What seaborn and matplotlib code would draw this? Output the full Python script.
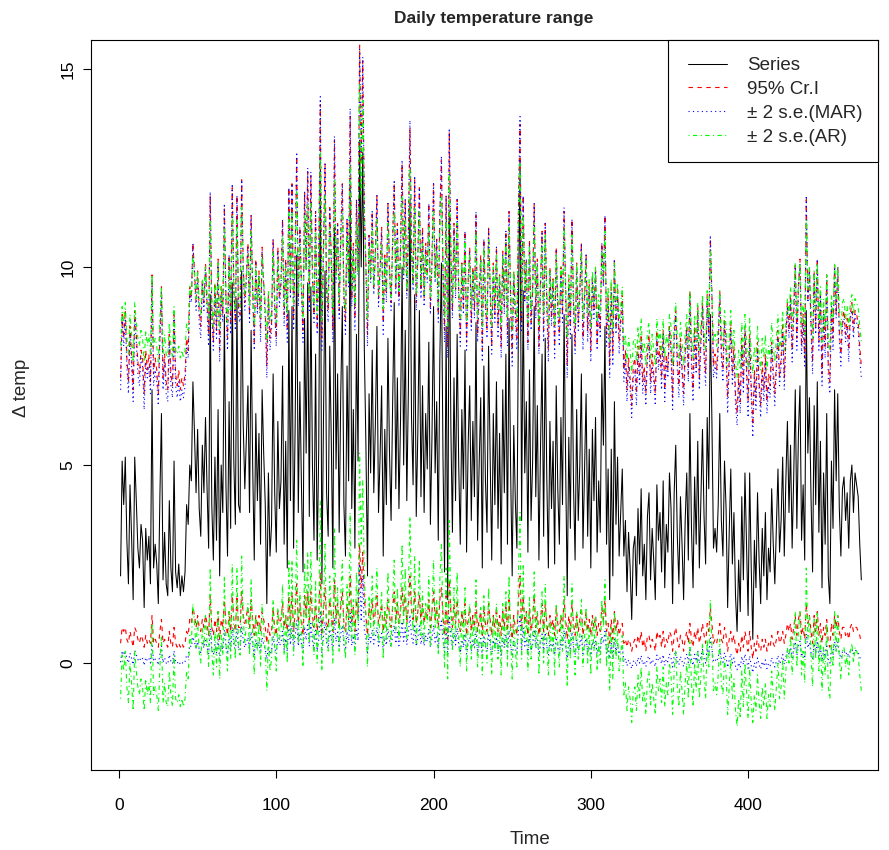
import numpy as np
import pandas as pd
import matplotlib
matplotlib.use("Agg")
import matplotlib.pyplot as plt
from matplotlib.patches import Rectangle
import seaborn as sns

# ---------------- data ----------------
series = [
    2.2, 5.1, 4.0, 5.2, 3.1, 2.0, 4.5, 3.2, 1.6, 5.2, 4.1, 2.9, 2.4, 3.5, 3.1, 1.4, 3.4, 2.6, 3.2, 2.0,
    6.9, 2.4, 3.0, 2.5, 1.5, 4.2, 6.3, 2.1, 3.3, 2.0, 1.7, 4.1, 2.4, 1.8, 5.1, 2.3, 1.9, 2.5, 1.7, 2.2,
    1.8, 2.3, 4.0, 3.5, 5.0, 4.6, 7.1, 5.8, 4.3, 5.9, 3.9, 3.2, 5.5, 4.3, 6.2, 4.4, 2.9, 9.3, 4.0, 2.6,
    5.2, 3.1, 6.4, 2.2, 5.0, 3.8, 8.8, 4.5, 2.7, 6.6, 3.4, 9.6, 5.1, 3.5, 9.2, 4.0, 3.8, 9.9, 6.0, 4.4,
    5.7, 7.0, 3.8, 8.4, 5.0, 2.6, 6.3, 4.1, 5.8, 3.0, 6.9, 5.3, 4.0, 1.5, 4.8, 2.7, 3.5, 7.3, 4.3, 2.8,
    6.1, 3.9, 4.6, 7.5, 3.0, 5.6, 2.4, 8.9, 4.1, 9.0, 2.9, 6.0, 10.3, 3.8, 7.1, 4.5, 2.3, 8.7, 5.3, 9.6,
    3.7, 9.5, 5.0, 3.1, 7.8, 2.6, 5.4, 12.7, 2.0, 6.1, 9.9, 4.3, 3.2, 8.0, 5.6, 2.4, 11.0, 4.9, 7.3, 3.3,
    6.8, 9.0, 4.0, 2.7, 7.5, 4.6, 12.1, 3.9, 6.4, 2.9, 8.3, 5.1, 13.2, 10.0, 12.9, 7.9, 5.5, 2.2, 6.8, 4.8,
    7.9, 4.3, 6.0, 8.5, 3.8, 5.2, 7.0, 2.7, 5.9, 4.0, 8.2, 5.3, 3.6, 6.6, 9.1, 4.4, 7.2, 3.9, 6.1, 10.0,
    5.0, 8.4, 4.1, 6.9, 11.7, 6.2, 4.5, 9.3, 3.7, 5.8, 8.9, 4.2, 7.0, 3.8, 6.3, 4.9, 8.1, 3.5, 5.7, 9.0,
    4.8, 6.6, 3.1, 7.7, 10.1, 5.2, 2.3, 8.5, 1.6, 11.4, 6.0, 3.3, 7.2, 4.1, 8.3, 5.0, 3.0, 6.4, 4.4, 7.9,
    2.8, 5.5, 7.0, 3.6, 6.1, 4.2, 8.6, 3.1, 5.0, 6.7, 2.4, 7.5, 4.6, 3.3, 8.0, 5.2, 2.6, 6.3, 4.0, 7.1,
    3.4, 5.8, 2.5, 6.9, 4.3, 7.8, 3.0, 8.7, 4.9, 2.2, 6.0, 4.1, 2.9, 8.9, 12.7, 3.6, 9.4, 4.8, 6.6, 2.8,
    7.4, 3.6, 5.1, 9.0, 4.2, 6.5, 2.6, 5.4, 7.8, 3.2, 8.2, 4.7, 2.4, 6.1, 3.9, 5.6, 2.5, 7.0, 4.4, 3.0,
    6.2, 4.0, 8.8, 5.0, 1.7, 5.7, 3.4, 8.3, 4.5, 2.6, 6.4, 3.6, 5.0, 7.3, 2.9, 4.8, 6.8, 3.2, 5.4, 2.4,
    5.9, 4.1, 6.2, 2.8, 4.6, 3.3, 7.3, 5.5, 8.5, 3.0, 4.9, 1.6, 5.4, 2.2, 6.6, 3.5, 5.2, 2.7, 3.8, 4.9,
    2.7, 3.6, 1.8, 3.3, 2.4, 1.1, 2.9, 3.2, 1.7, 3.9, 2.5, 4.4, 2.2, 3.0, 1.6, 3.7, 4.3, 2.1, 3.4, 2.6,
    1.6, 4.5, 3.1, 3.8, 2.3, 4.6, 1.9, 3.5, 2.8, 4.8, 3.9, 1.5, 4.3, 5.5, 3.2, 2.0, 4.2, 3.0, 1.6, 3.6,
    4.8, 2.6, 6.3, 3.4, 1.9, 4.7, 3.0, 5.6, 2.4, 4.1, 5.9, 3.7, 2.5, 6.2, 4.4, 8.8, 6.1, 2.9, 3.4, 2.8,
    4.0, 6.3, 3.6, 2.7, 5.1, 3.9, 1.4, 3.3, 4.9, 2.5, 3.8, 1.7, 0.8, 2.6, 1.3, 4.2, 2.1, 4.8, 3.0, 1.2,
    4.8, 2.4, 0.6, 3.1, 1.9, 4.3, 2.6, 1.5, 3.4, 2.2, 3.8, 1.6, 2.9, 2.3, 4.4, 3.0, 2.0, 3.5, 4.9, 2.8,
    3.6, 5.2, 2.7, 4.6, 6.1, 3.8, 5.5, 2.9, 4.7, 6.9, 3.4, 5.8, 7.0, 3.1, 4.5, 2.6, 8.9, 5.3, 6.7, 4.2,
    2.3, 6.5, 4.0, 7.1, 3.3, 5.6, 1.9, 4.8, 3.0, 6.3, 2.2, 1.5, 5.1, 3.4, 6.9, 4.6, 6.8, 3.9, 2.7, 4.4,
    4.7, 3.6, 4.3, 2.9, 4.6, 5.0, 3.8, 4.8, 4.5, 4.2, 3.0, 2.1,
]

cri_upper = [
    7.2, 8.8, 8.2, 8.9, 7.7, 7.1, 8.5, 7.8, 6.9, 8.9, 8.3, 7.6, 7.3, 7.9, 7.7, 6.8, 7.9, 7.4, 7.8, 7.1,
    9.8, 7.3, 7.7, 7.4, 6.8, 8.3, 9.5, 7.2, 7.8, 7.1, 6.9, 8.3, 7.3, 7.0, 8.8, 7.3, 7.0, 7.4, 6.9, 7.2,
    7.0, 7.3, 8.2, 7.9, 9.5, 9.2, 10.6, 9.9, 9.1, 9.9, 8.9, 8.5, 9.7, 9.1, 10.1, 9.1, 8.3, 11.8, 8.9, 8.1,
    9.6, 8.4, 10.2, 7.9, 9.5, 8.8, 11.5, 9.2, 8.2, 10.3, 8.6, 12.0, 9.5, 8.6, 11.8, 8.9, 8.8, 12.2, 10.0, 9.1,
    9.8, 10.6, 8.8, 11.3, 9.5, 8.1, 10.2, 9.0, 9.9, 8.4, 10.5, 9.6, 8.9, 7.5, 9.3, 8.2, 8.6, 10.7, 9.1, 8.2,
    10.5, 9.2, 9.6, 11.2, 8.8, 10.2, 8.4, 12.0, 9.4, 12.1, 8.7, 10.4, 12.8, 9.2, 11.0, 9.6, 8.4, 11.9, 10.0, 12.4,
    9.1, 12.3, 9.9, 8.8, 11.4, 8.5, 10.1, 14.1, 8.2, 10.5, 12.6, 9.5, 8.9, 11.5, 10.2, 8.4, 13.2, 9.8, 11.1, 8.9,
    10.8, 12.1, 9.3, 8.6, 11.2, 9.6, 13.8, 9.2, 10.6, 8.7, 11.7, 9.9, 15.6, 12.6, 15.2, 11.4, 10.1, 8.3, 10.8, 9.7,
    11.4, 9.5, 10.4, 11.8, 9.2, 10.0, 11.0, 8.6, 10.3, 9.3, 11.6, 10.0, 9.1, 10.7, 12.1, 9.5, 11.1, 9.2, 10.5, 12.6,
    9.9, 11.7, 9.4, 10.9, 13.5, 10.5, 9.6, 12.2, 9.1, 10.3, 12.0, 9.4, 11.0, 9.2, 10.6, 9.8, 11.6, 9.0, 10.2, 12.1,
    9.7, 10.7, 8.8, 11.3, 12.7, 10.0, 8.4, 11.8, 8.0, 13.4, 10.4, 8.9, 11.1, 9.4, 11.7, 9.4, 8.3, 10.1, 9.0, 10.9,
    8.1, 9.6, 10.5, 8.6, 10.0, 8.9, 11.3, 8.3, 9.4, 10.3, 7.9, 10.7, 9.1, 8.4, 11.0, 9.5, 8.0, 10.1, 8.8, 10.5,
    8.5, 9.8, 8.0, 10.4, 9.0, 10.9, 8.3, 11.4, 9.3, 7.8, 9.9, 8.9, 8.2, 11.5, 13.6, 8.6, 11.8, 9.2, 10.2, 8.1,
    10.7, 8.6, 9.4, 11.6, 8.9, 10.2, 8.0, 9.6, 10.9, 8.4, 11.1, 9.2, 7.9, 10.0, 8.7, 9.7, 8.0, 10.5, 9.0, 8.3,
    10.0, 8.8, 11.4, 9.4, 7.5, 9.7, 8.5, 11.2, 9.1, 8.0, 10.1, 8.6, 9.4, 10.6, 8.2, 9.2, 10.3, 8.4, 9.6, 7.9,
    9.8, 8.9, 10.0, 8.1, 9.1, 8.4, 10.6, 9.6, 11.3, 8.3, 9.3, 7.5, 9.6, 7.8, 10.2, 8.5, 9.5, 8.1, 8.7, 9.3,
    7.4, 7.9, 6.9, 7.7, 7.2, 6.5, 7.5, 7.7, 6.8, 8.0, 7.3, 8.3, 7.1, 7.5, 6.8, 7.9, 8.3, 7.1, 7.8, 7.3,
    6.8, 8.4, 7.6, 8.0, 7.2, 8.4, 6.9, 7.8, 7.4, 8.5, 8.0, 6.7, 8.3, 8.9, 7.7, 7.0, 8.2, 7.5, 6.8, 7.9,
    8.5, 7.3, 9.4, 7.8, 6.9, 8.5, 7.5, 9.0, 7.2, 8.2, 9.1, 7.9, 7.3, 9.3, 8.3, 10.7, 9.3, 7.5, 7.8, 7.4,
    8.1, 9.4, 7.9, 7.4, 8.7, 8.0, 6.7, 7.7, 8.6, 7.3, 8.0, 6.8, 6.3, 7.3, 6.6, 8.2, 7.1, 8.5, 7.5, 6.6,
    8.3, 7.0, 6.0, 7.4, 6.7, 8.1, 7.1, 6.5, 7.6, 6.9, 7.8, 6.6, 7.3, 7.0, 8.1, 7.4, 6.8, 7.6, 8.4, 7.2,
    7.7, 8.6, 7.2, 8.2, 9.1, 8.4, 9.3, 7.9, 8.9, 10.1, 8.2, 9.5, 10.2, 8.0, 8.8, 7.7, 11.7, 9.2, 10.0, 8.6,
    7.6, 9.9, 8.5, 10.2, 8.1, 9.4, 7.3, 8.9, 8.0, 9.8, 7.5, 7.1, 9.1, 8.2, 10.1, 8.8, 10.0, 8.4, 7.8, 8.7,
    8.9, 8.3, 8.7, 7.9, 8.8, 9.1, 8.4, 8.9, 8.8, 8.6, 8.0, 7.5,
]

cri_lower = [
    0.5, 0.9, 0.8, 0.9, 0.6, 0.5, 0.8, 0.6, 0.4, 0.9, 0.8, 0.6, 0.5, 0.7, 0.6, 0.4, 0.7, 0.5, 0.6, 0.5,
    1.2, 0.5, 0.6, 0.5, 0.4, 0.8, 1.1, 0.5, 0.6, 0.5, 0.4, 0.8, 0.5, 0.4, 0.9, 0.5, 0.4, 0.5, 0.4, 0.5,
    0.4, 0.5, 0.8, 0.7, 1.1, 1.0, 1.4, 1.2, 0.9, 1.2, 0.9, 0.8, 1.1, 0.9, 1.2, 1.0, 0.7, 1.7, 0.9, 0.7,
    1.1, 0.8, 1.3, 0.6, 1.1, 0.9, 1.6, 1.0, 0.7, 1.3, 0.8, 1.7, 1.1, 0.8, 1.7, 0.9, 0.9, 1.8, 1.2, 1.0,
    1.2, 1.4, 0.9, 1.6, 1.1, 0.7, 1.2, 0.9, 1.2, 0.8, 1.3, 1.1, 0.9, 0.5, 1.0, 0.7, 0.8, 1.4, 0.9, 0.7,
    1.3, 1.0, 1.1, 1.5, 0.9, 1.2, 0.8, 1.7, 1.0, 1.8, 0.8, 1.3, 2.0, 1.0, 1.5, 1.1, 0.7, 1.7, 1.2, 1.8,
    1.0, 1.8, 1.2, 0.9, 1.6, 0.8, 1.2, 2.3, 0.7, 1.3, 1.9, 1.0, 0.9, 1.6, 1.2, 0.8, 2.1, 1.1, 1.5, 0.9,
    1.4, 1.8, 1.0, 0.8, 1.5, 1.1, 2.2, 1.0, 1.4, 0.8, 1.6, 1.2, 3.0, 1.9, 2.8, 1.6, 1.2, 0.7, 1.4, 1.1,
    1.6, 1.0, 1.3, 1.7, 1.0, 1.2, 1.5, 0.8, 1.3, 1.0, 1.6, 1.2, 0.9, 1.4, 1.8, 1.1, 1.5, 1.0, 1.3, 1.9,
    1.2, 1.7, 1.0, 1.4, 2.2, 1.3, 1.1, 1.8, 1.0, 1.3, 1.7, 1.0, 1.5, 1.0, 1.3, 1.1, 1.6, 0.9, 1.3, 1.8,
    1.1, 1.4, 0.9, 1.6, 1.9, 1.2, 0.7, 1.7, 0.6, 2.1, 1.3, 0.9, 1.5, 1.0, 1.6, 1.1, 0.8, 1.3, 1.0, 1.5,
    0.7, 1.1, 1.4, 0.8, 1.2, 0.9, 1.6, 0.8, 1.1, 1.3, 0.7, 1.4, 1.0, 0.8, 1.5, 1.1, 0.7, 1.2, 0.9, 1.4,
    0.8, 1.2, 0.7, 1.3, 0.9, 1.5, 0.8, 1.6, 1.0, 0.6, 1.2, 0.9, 0.7, 1.6, 2.2, 0.8, 1.7, 1.0, 1.3, 0.7,
    1.4, 0.8, 1.1, 1.7, 0.9, 1.3, 0.7, 1.1, 1.5, 0.8, 1.5, 1.0, 0.7, 1.2, 0.9, 1.1, 0.7, 1.4, 1.0, 0.8,
    1.2, 0.9, 1.6, 1.1, 0.6, 1.2, 0.8, 1.5, 1.0, 0.7, 1.3, 0.8, 1.1, 1.4, 0.7, 1.0, 1.3, 0.8, 1.1, 0.7,
    1.2, 0.9, 1.2, 0.7, 1.0, 0.8, 1.4, 1.1, 1.6, 0.8, 1.0, 0.5, 1.1, 0.6, 1.3, 0.8, 1.1, 0.7, 0.9, 1.0,
    0.5, 0.6, 0.4, 0.6, 0.5, 0.3, 0.5, 0.6, 0.4, 0.7, 0.5, 0.8, 0.4, 0.6, 0.3, 0.7, 0.7, 0.4, 0.6, 0.5,
    0.3, 0.8, 0.6, 0.7, 0.4, 0.8, 0.4, 0.6, 0.5, 0.8, 0.7, 0.3, 0.7, 0.9, 0.6, 0.4, 0.7, 0.6, 0.3, 0.6,
    0.8, 0.5, 1.0, 0.6, 0.4, 0.8, 0.6, 0.9, 0.5, 0.7, 1.0, 0.7, 0.5, 1.0, 0.8, 1.4, 1.0, 0.5, 0.6, 0.5,
    0.7, 1.0, 0.6, 0.5, 0.9, 0.7, 0.3, 0.6, 0.8, 0.5, 0.7, 0.4, 0.2, 0.5, 0.3, 0.7, 0.4, 0.8, 0.6, 0.3,
    0.8, 0.4, 0.1, 0.5, 0.3, 0.7, 0.4, 0.3, 0.6, 0.4, 0.6, 0.3, 0.5, 0.4, 0.7, 0.5, 0.4, 0.6, 0.8, 0.5,
    0.6, 0.8, 0.5, 0.7, 1.0, 0.8, 1.0, 0.6, 0.9, 1.2, 0.7, 1.1, 1.3, 0.7, 0.9, 0.6, 1.5, 1.0, 1.2, 0.8,
    0.5, 1.2, 0.8, 1.3, 0.7, 1.0, 0.5, 0.9, 0.7, 1.1, 0.5, 0.4, 1.0, 0.7, 1.2, 0.9, 1.2, 0.8, 0.6, 0.9,
    0.9, 0.7, 0.8, 0.6, 0.9, 1.0, 0.8, 0.9, 0.9, 0.8, 0.7, 0.5,
]

mar_upper = [
    6.9, 8.7, 8.0, 8.7, 7.5, 6.8, 8.3, 7.5, 6.6, 8.7, 8.1, 7.3, 7.0, 7.7, 7.5, 6.4, 7.6, 7.2, 7.5, 6.8,
    9.7, 7.0, 7.4, 7.1, 6.5, 8.1, 9.4, 6.9, 7.6, 6.8, 6.6, 8.1, 7.0, 6.7, 8.7, 7.0, 6.7, 7.1, 6.6, 6.9,
    6.7, 7.0, 8.0, 7.7, 9.3, 9.1, 10.6, 9.8, 8.9, 9.8, 8.6, 8.2, 9.6, 8.9, 10.0, 8.9, 8.0, 11.9, 8.7, 7.9,
    9.4, 8.2, 10.1, 7.6, 9.3, 8.6, 11.6, 9.0, 7.9, 10.3, 8.3, 12.1, 9.4, 8.4, 11.8, 8.7, 8.6, 12.2, 9.9, 8.9,
    9.7, 10.5, 8.6, 11.3, 9.3, 7.9, 10.1, 8.8, 9.8, 8.1, 10.4, 9.5, 8.7, 7.2, 9.2, 7.9, 8.4, 10.7, 8.9, 8.0,
    10.4, 9.0, 9.5, 11.2, 8.5, 10.1, 8.1, 12.0, 9.2, 12.1, 8.4, 10.3, 12.9, 9.0, 11.0, 9.4, 8.1, 11.9, 9.9, 12.5,
    8.9, 12.4, 9.7, 8.6, 11.4, 8.3, 10.0, 14.3, 7.9, 10.4, 12.6, 9.3, 8.6, 11.5, 10.1, 8.1, 13.3, 9.6, 11.1, 8.7,
    10.8, 12.1, 9.1, 8.3, 11.2, 9.5, 14.0, 9.0, 10.5, 8.4, 11.7, 9.8, 15.5, 12.7, 15.3, 11.4, 10.0, 8.0, 10.8, 9.6,
    11.4, 9.3, 10.3, 11.8, 9.0, 9.8, 10.9, 8.3, 10.2, 9.1, 11.6, 9.9, 8.9, 10.7, 12.2, 9.3, 11.0, 9.0, 10.4, 12.7,
    9.7, 11.7, 9.2, 10.8, 13.7, 10.4, 9.4, 12.3, 8.9, 10.2, 12.0, 9.2, 10.9, 9.0, 10.5, 9.6, 11.6, 8.8, 10.1, 12.1,
    9.6, 10.7, 8.6, 11.3, 12.8, 9.8, 8.1, 11.8, 7.7, 13.5, 10.3, 8.7, 11.0, 9.2, 11.7, 9.2, 8.0, 10.0, 8.8, 10.9,
    7.9, 9.5, 10.4, 8.4, 9.9, 8.7, 11.4, 8.1, 9.2, 10.2, 7.6, 10.7, 9.0, 8.2, 11.0, 9.3, 7.8, 10.0, 8.6, 10.5,
    8.2, 9.7, 7.7, 10.3, 8.8, 10.9, 8.0, 11.4, 9.1, 7.5, 9.8, 8.7, 7.9, 11.5, 13.8, 8.4, 11.8, 9.1, 10.2, 7.9,
    10.6, 8.4, 9.3, 11.6, 8.7, 10.1, 7.8, 9.4, 10.9, 8.1, 11.1, 9.0, 7.6, 9.9, 8.5, 9.6, 7.7, 10.4, 8.8, 8.0,
    9.9, 8.6, 11.5, 9.2, 7.2, 9.6, 8.2, 11.2, 8.9, 7.8, 10.0, 8.4, 9.2, 10.6, 7.9, 9.1, 10.3, 8.1, 9.4, 7.6,
    9.7, 8.7, 9.9, 7.9, 9.0, 8.2, 10.6, 9.5, 11.3, 8.0, 9.1, 7.2, 9.4, 7.5, 10.2, 8.3, 9.3, 7.8, 8.5, 9.1,
    7.1, 7.7, 6.6, 7.5, 6.9, 6.2, 7.2, 7.4, 6.5, 7.8, 7.0, 8.1, 6.8, 7.3, 6.5, 7.7, 8.1, 6.8, 7.5, 7.1,
    6.5, 8.2, 7.4, 7.8, 6.9, 8.3, 6.6, 7.6, 7.2, 8.4, 7.8, 6.4, 8.1, 8.8, 7.4, 6.7, 8.0, 7.3, 6.5, 7.7,
    8.4, 7.1, 9.3, 7.5, 6.6, 8.3, 7.3, 8.9, 6.9, 8.0, 9.0, 7.7, 7.0, 9.2, 8.1, 10.8, 9.2, 7.2, 7.5, 7.2,
    7.9, 9.3, 7.7, 7.1, 8.6, 7.8, 6.3, 7.5, 8.4, 7.0, 7.8, 6.5, 6.0, 7.1, 6.3, 8.0, 6.8, 8.4, 7.3, 6.2,
    8.2, 6.7, 5.7, 7.2, 6.4, 7.9, 6.9, 6.2, 7.3, 6.6, 7.6, 6.3, 7.0, 6.7, 8.0, 7.1, 6.5, 7.4, 8.2, 7.0,
    7.5, 8.4, 6.9, 8.1, 9.0, 8.2, 9.2, 7.6, 8.7, 10.0, 7.9, 9.4, 10.1, 7.8, 8.6, 7.5, 11.8, 9.1, 9.9, 8.4,
    7.3, 9.8, 8.3, 10.2, 7.9, 9.3, 7.0, 8.8, 7.7, 9.7, 7.2, 6.8, 9.0, 7.9, 10.0, 8.7, 10.0, 8.2, 7.5, 8.5,
    8.7, 8.1, 8.5, 7.6, 8.7, 8.9, 8.2, 8.8, 8.6, 8.4, 7.7, 7.2,
]

mar_lower = [
    0.02, 0.31, 0.2, 0.32, 0.11, 0.0, 0.25, 0.12, -0.04, 0.32, 0.21, 0.09, 0.04, 0.15, 0.11, -0.06, 0.14, 0.06, 0.12, 0.0,
    0.49, 0.04, 0.1, 0.05, -0.05, 0.22, 0.43, 0.01, 0.13, 0.0, -0.03, 0.21, 0.04, -0.02, 0.31, 0.03, -0.01, 0.05, -0.03, 0.02,
    -0.02, 0.03, 0.2, 0.15, 0.45, 0.41, 0.66, 0.53, 0.38, 0.54, 0.34, 0.27, 0.5, 0.38, 0.57, 0.39, 0.24, 0.88, 0.35, 0.21,
    0.47, 0.26, 0.59, 0.17, 0.45, 0.33, 0.83, 0.4, 0.22, 0.61, 0.29, 0.91, 0.46, 0.3, 0.87, 0.35, 0.33, 0.94, 0.55, 0.39,
    0.52, 0.65, 0.33, 0.79, 0.45, 0.21, 0.58, 0.36, 0.53, 0.25, 0.64, 0.48, 0.35, 0.1, 0.43, 0.22, 0.3, 0.68, 0.38, 0.23,
    0.66, 0.44, 0.51, 0.8, 0.35, 0.61, 0.29, 0.94, 0.46, 0.95, 0.34, 0.65, 1.08, 0.43, 0.76, 0.5, 0.28, 0.92, 0.58, 1.01,
    0.42, 1.0, 0.55, 0.36, 0.83, 0.31, 0.59, 1.32, 0.25, 0.66, 1.04, 0.48, 0.37, 0.85, 0.61, 0.29, 1.15, 0.54, 0.78, 0.38,
    0.73, 0.95, 0.45, 0.32, 0.8, 0.51, 1.26, 0.44, 0.69, 0.34, 0.88, 0.56, 2.5, 1.05, 2.2, 0.84, 0.6, 0.27, 0.73, 0.53,
    0.84, 0.48, 0.65, 0.9, 0.43, 0.57, 0.75, 0.32, 0.64, 0.45, 0.87, 0.58, 0.41, 0.71, 0.96, 0.49, 0.77, 0.44, 0.66, 1.05,
    0.55, 0.89, 0.46, 0.74, 1.22, 0.67, 0.5, 0.98, 0.42, 0.63, 0.94, 0.47, 0.75, 0.43, 0.68, 0.54, 0.86, 0.4, 0.62, 0.95,
    0.53, 0.71, 0.36, 0.82, 1.06, 0.57, 0.28, 0.9, 0.21, 1.19, 0.65, 0.38, 0.77, 0.46, 0.88, 0.45, 0.25, 0.59, 0.39, 0.74,
    0.23, 0.5, 0.65, 0.31, 0.56, 0.37, 0.81, 0.26, 0.45, 0.62, 0.19, 0.7, 0.41, 0.28, 0.75, 0.47, 0.21, 0.58, 0.35, 0.66,
    0.29, 0.53, 0.2, 0.64, 0.38, 0.73, 0.25, 0.82, 0.44, 0.17, 0.55, 0.36, 0.24, 0.84, 1.22, 0.31, 0.89, 0.43, 0.61, 0.23,
    0.69, 0.31, 0.46, 0.85, 0.37, 0.6, 0.21, 0.49, 0.73, 0.27, 0.77, 0.42, 0.19, 0.56, 0.34, 0.51, 0.2, 0.65, 0.39, 0.25,
    0.57, 0.35, 0.83, 0.45, 0.12, 0.52, 0.29, 0.78, 0.4, 0.21, 0.59, 0.31, 0.45, 0.68, 0.24, 0.43, 0.63, 0.27, 0.49, 0.19,
    0.54, 0.36, 0.57, 0.23, 0.41, 0.28, 0.68, 0.5, 0.8, 0.25, 0.44, 0.11, 0.49, 0.17, 0.61, 0.3, 0.47, 0.22, 0.33, 0.44,
    0.02, 0.11, -0.07, 0.08, -0.01, -0.14, 0.04, 0.07, -0.08, 0.14, 0.0, 0.19, -0.03, 0.05, -0.09, 0.12, 0.18, -0.04, 0.09, 0.01,
    -0.09, 0.2, 0.06, 0.13, -0.02, 0.21, -0.06, 0.1, 0.03, 0.23, 0.14, -0.1, 0.18, 0.3, 0.07, -0.05, 0.17, 0.05, -0.09, 0.11,
    0.23, 0.01, 0.38, 0.09, -0.06, 0.22, 0.05, 0.31, -0.01, 0.16, 0.34, 0.12, 0.0, 0.37, 0.19, 0.63, 0.36, 0.04, 0.09, 0.03,
    0.15, 0.38, 0.11, 0.02, 0.26, 0.14, -0.11, 0.08, 0.24, 0.0, 0.13, -0.08, -0.17, 0.01, -0.12, 0.17, -0.04, 0.23, 0.05, -0.13,
    0.18, -0.06, -0.24, 0.01, -0.11, 0.13, -0.04, -0.15, 0.04, -0.08, 0.08, -0.14, -0.01, -0.07, 0.14, 0.0, -0.1, 0.05, 0.19, -0.02,
    0.06, 0.22, -0.03, 0.16, 0.31, 0.23, 0.4, 0.14, 0.32, 0.54, 0.19, 0.43, 0.55, 0.16, 0.3, 0.11, 0.74, 0.38, 0.52, 0.27,
    0.08, 0.5, 0.25, 0.56, 0.18, 0.41, 0.04, 0.33, 0.15, 0.48, 0.07, 0.0, 0.36, 0.19, 0.54, 0.31, 0.53, 0.24, 0.12, 0.29,
    0.32, 0.21, 0.28, 0.14, 0.31, 0.35, 0.23, 0.33, 0.3, 0.27, 0.15, 0.06,
]

ar_upper = [
    7.9, 9.0, 8.6, 9.1, 8.2, 7.8, 8.8, 8.3, 7.6, 9.1, 8.6, 8.2, 8.0, 8.4, 8.2, 7.6, 8.4, 8.0, 8.3, 7.8,
    9.8, 8.0, 8.2, 8.0, 7.6, 8.7, 9.5, 7.8, 8.3, 7.8, 7.7, 8.6, 8.0, 7.7, 9.0, 7.9, 7.8, 8.0, 7.7, 7.9,
    7.7, 7.9, 8.6, 8.4, 9.5, 9.3, 10.3, 9.8, 9.2, 9.9, 9.1, 8.8, 9.7, 9.2, 10.0, 9.3, 8.7, 11.2, 9.1, 8.5,
    9.6, 8.7, 10.1, 8.4, 9.5, 9.0, 11.0, 9.3, 8.6, 10.1, 8.9, 11.3, 9.5, 8.9, 11.2, 9.1, 9.0, 11.5, 9.9, 9.3,
    9.8, 10.3, 9.0, 10.9, 9.5, 8.5, 10.0, 9.1, 9.8, 8.7, 10.3, 9.6, 9.1, 8.1, 9.4, 8.6, 8.9, 10.4, 9.2, 8.6,
    10.2, 9.4, 9.6, 10.8, 9.0, 10.0, 8.8, 11.4, 9.4, 11.4, 9.0, 10.2, 11.9, 9.3, 10.6, 9.6, 8.7, 11.3, 9.9, 11.6,
    9.3, 11.6, 9.8, 9.0, 10.9, 8.8, 10.0, 12.9, 8.6, 10.2, 11.8, 9.5, 9.1, 11.0, 10.0, 8.8, 12.2, 9.8, 10.7, 9.1,
    10.5, 11.4, 9.4, 8.9, 10.8, 9.6, 12.6, 9.4, 10.4, 9.0, 11.1, 9.8, 14.6, 11.8, 14.2, 11.0, 10.0, 8.7, 10.5, 9.7,
    11.0, 9.5, 10.2, 11.2, 9.3, 9.9, 10.6, 8.9, 10.2, 9.4, 11.1, 9.9, 9.2, 10.4, 11.4, 9.6, 10.7, 9.4, 10.2, 11.8,
    9.8, 11.2, 9.4, 10.6, 12.5, 10.3, 9.6, 11.5, 9.3, 10.1, 11.4, 9.5, 10.6, 9.3, 10.3, 9.8, 11.0, 9.2, 10.1, 11.4,
    9.7, 10.4, 9.0, 10.9, 11.8, 9.9, 8.7, 11.2, 8.4, 12.4, 10.2, 9.1, 10.7, 9.4, 11.1, 9.5, 8.7, 10.1, 9.3, 10.7,
    8.6, 9.7, 10.3, 8.9, 9.9, 9.2, 10.9, 8.7, 9.5, 10.2, 8.5, 10.5, 9.3, 8.8, 10.7, 9.6, 8.5, 10.0, 9.1, 10.3,
    8.9, 9.8, 8.5, 10.3, 9.2, 10.6, 8.7, 11.0, 9.5, 8.4, 9.9, 9.1, 8.7, 11.1, 12.6, 8.9, 11.3, 9.4, 10.1, 8.6,
    10.5, 8.9, 9.5, 11.1, 9.2, 10.1, 8.5, 9.7, 10.6, 8.8, 10.8, 9.4, 8.5, 9.9, 9.1, 9.7, 8.5, 10.3, 9.3, 8.7,
    10.0, 9.1, 11.0, 9.5, 8.2, 9.8, 8.9, 10.8, 9.3, 8.5, 10.1, 8.9, 9.5, 10.4, 8.7, 9.4, 10.2, 8.8, 9.7, 8.5,
    9.9, 9.1, 10.0, 8.6, 9.3, 8.8, 10.4, 9.7, 10.9, 8.7, 9.5, 8.1, 9.7, 8.4, 10.1, 8.9, 9.6, 8.6, 9.0, 9.5,
    8.0, 8.3, 7.6, 8.2, 7.9, 7.3, 8.1, 8.2, 7.6, 8.5, 7.9, 8.7, 7.8, 8.1, 7.5, 8.4, 8.6, 7.7, 8.3, 7.9,
    7.5, 8.7, 8.1, 8.4, 7.8, 8.7, 7.7, 8.3, 8.0, 8.8, 8.5, 7.5, 8.6, 9.1, 8.2, 7.7, 8.6, 8.1, 7.5, 8.3,
    8.8, 7.9, 9.4, 8.3, 7.7, 8.8, 8.1, 9.1, 7.9, 8.5, 9.3, 8.4, 7.9, 9.4, 8.7, 10.4, 9.3, 8.1, 8.3, 8.0,
    8.5, 9.4, 8.3, 8.0, 8.9, 8.5, 7.5, 8.2, 8.9, 7.9, 8.4, 7.6, 7.2, 7.9, 7.4, 8.6, 7.7, 8.8, 8.1, 7.4,
    8.7, 7.8, 7.3, 8.0, 7.6, 8.5, 7.8, 7.4, 8.2, 7.7, 8.3, 7.4, 8.0, 7.7, 8.6, 8.0, 7.6, 8.2, 8.8, 7.9,
    8.2, 8.9, 7.9, 8.6, 9.2, 8.8, 9.5, 8.5, 9.2, 10.1, 8.7, 9.6, 10.1, 8.5, 9.1, 8.3, 11.2, 9.4, 10.0, 9.0,
    8.2, 9.9, 8.9, 10.1, 8.6, 9.5, 8.1, 9.2, 8.5, 9.8, 8.2, 7.9, 9.3, 8.7, 10.1, 9.1, 10.0, 8.9, 8.4, 9.1,
    9.2, 8.7, 9.0, 8.5, 9.1, 9.3, 8.8, 9.2, 9.1, 9.0, 8.5, 8.1,
]

ar_lower = [
    -0.9, 0.2, -0.2, 0.3, -0.6, -1.0, 0.0, -0.5, -1.2, 0.3, -0.2, -0.6, -0.8, -0.4, -0.6, -1.2, -0.4, -0.8, -0.5, -1.0,
    1.0, -0.8, -0.6, -0.8, -1.2, -0.1, 0.7, -1.0, -0.5, -1.0, -1.1, -0.2, -0.8, -1.1, 0.2, -0.9, -1.0, -0.8, -1.1, -0.9,
    -1.1, -0.9, -0.2, -0.4, 0.7, 0.5, 1.5, 1.0, 0.4, 1.1, 0.3, 0.0, 0.9, 0.4, 1.2, 0.5, -0.1, 2.4, 0.3, -0.3,
    0.8, -0.1, 1.3, -0.4, 0.7, 0.2, 2.2, 0.5, -0.2, 1.3, 0.1, 2.5, 0.7, 0.1, 2.4, 0.3, 0.2, 2.7, 1.1, 0.5,
    1.0, 1.5, 0.2, 2.1, 0.7, -0.3, 1.2, 0.3, 1.0, -0.1, 1.5, 0.8, 0.3, -0.7, 0.6, -0.2, 0.1, 1.6, 0.4, -0.2,
    1.4, 0.6, 0.8, 2.0, 0.2, 1.2, 0.0, 2.6, 0.6, 2.6, 0.2, 1.4, 3.1, 0.5, 1.8, 0.8, -0.1, 2.5, 1.1, 2.8,
    0.5, 2.8, 1.0, 0.2, 2.1, 0.0, 1.2, 4.1, -0.2, 1.4, 3.0, 0.7, 0.3, 2.2, 1.2, 0.0, 3.4, 1.0, 1.9, 0.3,
    1.7, 2.6, 0.6, 0.1, 2.0, 0.8, 3.8, 0.6, 1.6, 0.2, 2.3, 1.0, 5.3, 3.0, 4.6, 2.2, 1.2, -0.1, 1.7, 0.9,
    2.2, 0.7, 1.4, 2.4, 0.5, 1.1, 1.8, 0.1, 1.4, 0.6, 2.3, 1.1, 0.4, 1.6, 2.6, 0.8, 1.9, 0.6, 1.4, 3.0,
    1.0, 2.4, 0.6, 1.8, 3.7, 1.5, 0.8, 2.7, 0.5, 1.3, 2.6, 0.7, 1.8, 0.5, 1.5, 1.0, 2.2, 0.4, 1.3, 2.6,
    0.9, 1.6, 0.2, 2.1, 3.0, 1.1, -0.1, 2.4, -0.4, 3.6, 1.4, 0.3, 1.9, 0.6, 2.3, 0.7, -0.1, 1.3, 0.5, 1.9,
    -0.2, 0.9, 1.5, 0.1, 1.1, 0.4, 2.1, -0.1, 0.7, 1.4, -0.3, 1.7, 0.5, 0.0, 1.9, 0.8, -0.3, 1.2, 0.3, 1.5,
    0.1, 1.0, -0.3, 1.5, 0.4, 1.8, -0.1, 2.2, 0.7, -0.4, 1.1, 0.3, -0.1, 2.3, 3.8, 0.1, 2.5, 0.6, 1.3, -0.2,
    1.7, 0.1, 0.7, 2.3, 0.4, 1.3, -0.3, 0.9, 1.8, 0.0, 2.0, 0.6, -0.3, 1.1, 0.3, 0.9, -0.3, 1.5, 0.5, -0.1,
    1.2, 0.3, 2.2, 0.7, -0.6, 1.0, 0.1, 2.0, 0.5, -0.3, 1.3, 0.1, 0.7, 1.6, -0.1, 0.6, 1.4, 0.0, 0.9, -0.3,
    1.1, 0.3, 1.2, -0.2, 0.5, 0.0, 1.6, 0.9, 2.1, -0.1, 0.7, -0.7, 0.9, -0.4, 1.3, 0.1, 0.8, -0.2, 0.2, 0.7,
    -0.8, -0.5, -1.2, -0.6, -0.9, -1.5, -0.7, -0.6, -1.2, -0.3, -0.9, -0.1, -1.0, -0.7, -1.3, -0.4, -0.2, -1.1, -0.5, -0.9,
    -1.3, -0.1, -0.7, -0.4, -1.0, -0.1, -1.1, -0.5, -0.8, 0.0, -0.3, -1.3, -0.2, 0.3, -0.6, -1.1, -0.2, -0.7, -1.3, -0.5,
    0.0, -0.9, 0.6, -0.5, -1.1, 0.0, -0.7, 0.3, -0.9, -0.3, 0.5, -0.4, -0.9, 0.6, -0.1, 1.6, 0.5, -0.7, -0.5, -0.8,
    -0.3, 0.6, -0.5, -0.8, 0.1, -0.3, -1.3, -0.6, 0.1, -0.9, -0.4, -1.2, -1.6, -0.9, -1.4, -0.2, -1.1, 0.0, -0.7, -1.4,
    -0.1, -1.0, -1.5, -0.8, -1.2, -0.3, -1.0, -1.4, -0.6, -1.1, -0.5, -1.4, -0.8, -1.1, -0.2, -0.8, -1.2, -0.6, 0.0, -0.9,
    -0.6, 0.1, -0.9, -0.2, 0.4, 0.0, 0.7, -0.3, 0.4, 1.3, -0.1, 0.8, 1.3, -0.3, 0.3, -0.5, 2.4, 0.6, 1.2, 0.2,
    -0.6, 1.1, 0.1, 1.3, -0.2, 0.7, -0.7, 0.4, -0.3, 1.0, -0.6, -0.9, 0.5, -0.1, 1.3, 0.3, 1.2, 0.1, -0.4, 0.3,
    0.4, -0.1, 0.2, -0.3, 0.3, 0.5, 0.0, 0.4, 0.3, 0.2, -0.3, -0.7,
]

x_ticks = [0, 100, 200, 300, 400]
y_ticks = [0, 5, 10, 15]
legend_labels = ["Series", "95% Cr.I", "\u00b1 2 s.e.(MAR)", "\u00b1 2 s.e.(AR)"]

# ---------------- figure ----------------
arrays = [series, cri_upper, cri_lower, mar_upper, mar_lower, ar_upper, ar_lower]
n = min(len(a) for a in arrays)
time = np.arange(1, n + 1)
df = pd.DataFrame({
    "time": time,
    "series": series[:n],
    "cri_upper": cri_upper[:n], "cri_lower": cri_lower[:n],
    "mar_upper": mar_upper[:n], "mar_lower": mar_lower[:n],
    "ar_upper": ar_upper[:n], "ar_lower": ar_lower[:n],
})

sns.set_style("white")
plt.rcParams['font.family'] = ['Liberation Sans', 'DejaVu Sans']

W, H = 889, 850
fig = plt.figure(figsize=(W / 100, H / 100), dpi=100)
ax = fig.add_axes([91 / W, 1 - 770 / H, (878 - 91) / W, (770 - 40) / H])

lw = 0.8
sns.lineplot(data=df, x="time", y="series", ax=ax, color="black", linewidth=0.75,
             estimator=None, sort=False, label="_s")
red_ls = (0, (4, 4))
blue_ls = (0, (1, 3))
green_ls = (0, (1, 3, 4, 3))
for col, c, ls in [("cri_upper", "#FF0000", red_ls), ("cri_lower", "#FF0000", red_ls),
                   ("mar_upper", "#0000FF", blue_ls), ("mar_lower", "#0000FF", blue_ls),
                   ("ar_upper", "#00FF00", green_ls), ("ar_lower", "#00FF00", green_ls)]:
    sns.lineplot(data=df, x="time", y=col, ax=ax, color=c, linewidth=lw, linestyle=ls,
                 estimator=None, sort=False, label="_" + col)

lines = ax.get_lines()
handles = [lines[0], lines[1], lines[3], lines[5]]

ax.set_xlim(-17.8, 482.6)
ax.set_ylim(-2.70, 15.73)
ax.set_xticks(x_ticks)
ax.set_yticks(y_ticks)
ax.set_xticklabels([str(v) for v in x_ticks])
ax.set_yticklabels([str(v) for v in y_ticks], rotation=90, va="center")
ax.set_xlabel("")
ax.set_ylabel("")
ax.tick_params(axis="both", direction="out", length=6, width=0.8, labelsize=12.5,
               colors="black", bottom=True, left=True)
ax.tick_params(axis="x", pad=14.5)
ax.tick_params(axis="y", pad=5)
for sp in ax.spines.values():
    sp.set_visible(True)
    sp.set_color("black")
    sp.set_linewidth(0.8)

# legend box (drawn as its own frame) and legend content
frame = Rectangle((668 / W, 1 - 162 / H), 210 / W, 122 / H, transform=fig.transFigure,
                  facecolor="white", edgecolor="black", linewidth=0.8, clip_on=False, zorder=4.9)
ax.add_patch(frame)
leg = ax.legend(handles, legend_labels, loc="upper left",
                bbox_to_anchor=(688 / W, 1 - 57 / H), bbox_transform=fig.transFigure,
                borderaxespad=0.0, borderpad=0.0, fontsize=13.5, frameon=False,
                handlelength=2.1, handletextpad=1.05, labelspacing=0.36)
leg.set_zorder(5)

fig.text(494 / W, 1 - 18 / H, "Daily temperature range", ha="center", va="center",
         fontsize=12.5, fontweight="bold")
fig.text(530 / W, 1 - 840 / H, "Time", ha="center", va="center", fontsize=13.5)
fig.text(22 / W, 1 - 388 / H, "\u0394 temp", ha="center", va="center", rotation=90, fontsize=13.5)

fig.savefig("out.png", dpi=100, facecolor="white")
